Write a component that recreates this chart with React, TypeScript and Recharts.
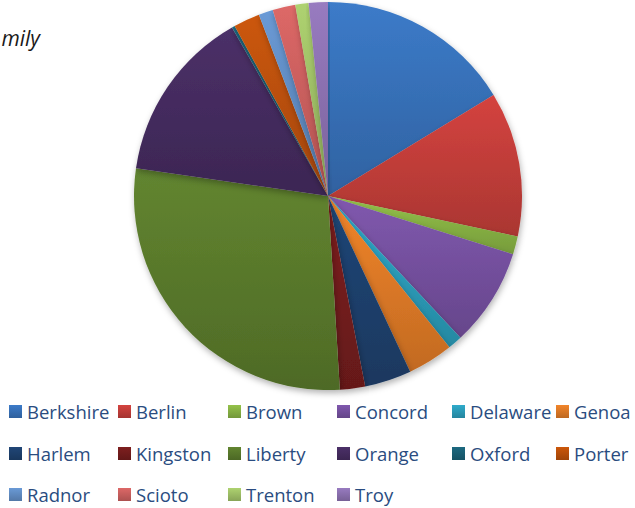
import React from "react";
import { PieChart, Pie, Cell, Legend } from "recharts";

const categories = [
  "Berkshire", "Berlin", "Brown", "Concord", "Delaware", "Genoa",
  "Harlem", "Kingston", "Liberty", "Orange", "Oxford", "Porter",
  "Radnor", "Scioto", "Trenton", "Troy",
];
const values = [
  16.3, 12.1, 1.5, 8.2, 1.2, 3.8,
  3.9, 2.1, 28.3, 14.5, 0.25, 2.2,
  1.2, 1.9, 1.1, 1.6,
];
const titleText = "mily";

const COLORS = [
  "#3C7BC9", "#D4433F", "#94C24A", "#8058AE", "#2FABCB", "#F2852A",
  "#204677", "#7E1F1F", "#628530", "#4B3068", "#1C6980", "#CC570A",
  "#6A9AD6", "#DD6867", "#AED270", "#987BC0",
];

const data = categories.map((name, i) => ({ name, value: values[i] }));

function shade(hex: string, amt: number) {
  const n = parseInt(hex.slice(1), 16);
  let r = (n >> 16) & 255, g = (n >> 8) & 255, b = n & 255;
  const f = (c: number) =>
    Math.round(amt >= 0 ? c + (255 - c) * amt : c * (1 + amt));
  r = f(r); g = f(g); b = f(b);
  return "#" + ((1 << 24) | (r << 16) | (g << 8) | b).toString(16).slice(1);
}

const COL_X = [9, 118, 228, 337, 452, 556];
const ROW_Y = [411, 453, 494];

const LegendContent = () => (
  <div style={{ position: "relative", width: 635, height: 113 }}>
    {categories.map((name, i) => {
      const col = i % 6;
      const row = Math.floor(i / 6);
      return (
        <div
          key={name}
          style={{
            position: "absolute",
            left: COL_X[col],
            top: ROW_Y[row] - 395 - 12,
            height: 24,
            display: "flex",
            alignItems: "center",
            whiteSpace: "nowrap",
          }}
        >
          <span
            style={{
              display: "inline-block",
              width: 13,
              height: 13,
              marginRight: 5,
              background: `linear-gradient(${COLORS[i]}, ${shade(COLORS[i], -0.22)})`,
            }}
          />
          <span
            style={{
              fontFamily: "'Open Sans', sans-serif",
              fontSize: 18.5,
              color: "#2A4C80",
            }}
          >
            {name}
          </span>
        </div>
      );
    })}
  </div>
);

export default function App() {
  return (
    <div style={{ position: "absolute", left: 0, top: 0, width: 635, height: 508, background: "#fff" }}>
      <PieChart width={635} height={508} margin={{ top: 0, right: 0, bottom: 0, left: 0 }}>
        <defs>
          {COLORS.map((c, i) => (
            <linearGradient key={i} id={`g${i}`} x1="0" y1="0" x2="0" y2="1">
              <stop offset="0%" stopColor={c} />
              <stop offset="100%" stopColor={shade(c, -0.2)} />
            </linearGradient>
          ))}
          <filter id="shadow" x="-10%" y="-10%" width="120%" height="120%">
            <feDropShadow dx="1" dy="3" stdDeviation="3" floodColor="#000" floodOpacity="0.3" />
          </filter>
        </defs>
        <text
          x={40}
          y={46}
          textAnchor="end"
          fontFamily="'Open Sans', sans-serif"
          fontStyle="italic"
          fontSize={21}
          fill="#1a1a1a"
        >
          {titleText}
        </text>
        <Pie
          data={data}
          dataKey="value"
          nameKey="name"
          cx={328}
          cy={196}
          outerRadius={194}
          startAngle={90}
          endAngle={-270}
          stroke="none"
          isAnimationActive={false}
          style={{ filter: "url(#shadow)" }}
        >
          {data.map((d, i) => (
            <Cell key={d.name} fill={`url(#g${i})`} stroke="none" />
          ))}
        </Pie>
        <Legend
          content={<LegendContent />}
          wrapperStyle={{ position: "absolute", left: 0, top: 395, width: 635, height: 113 }}
        />
      </PieChart>
    </div>
  );
}
